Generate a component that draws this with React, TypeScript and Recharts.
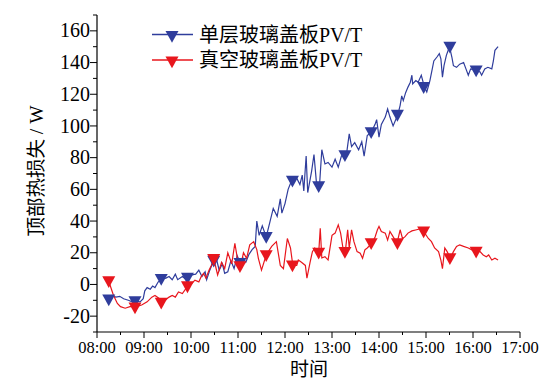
import { ComposedChart, Label, Legend, Line, XAxis, YAxis } from "recharts";

const FONT = "'Liberation Serif', 'Times New Roman', 'Noto Sans CJK SC', serif";
const BLUE = "#2F3D9C";
const RED = "#E8161D";

const seriesNames = ["单层玻璃盖板PV/T", "真空玻璃盖板PV/T"];
const xTitle = "时间";
const yTitle = "顶部热损失 / W";

// time in minutes after midnight
const xTicks = [480, 510, 540, 570, 600, 630, 660, 690, 720, 750, 780, 810, 840, 870, 900, 930, 960, 990, 1020];
const yTicks = [-30, -20, -10, 0, 10, 20, 30, 40, 50, 60, 70, 80, 90, 100, 110, 120, 130, 140, 150, 160, 170];

// single glazing PV/T
const singleTimes = [
  495, 499, 504, 509, 514, 520, 525, 530, 535, 539,
  541, 544, 548, 551, 554, 558, 563, 568, 572, 576,
  580, 583, 589, 594, 597, 601, 606, 610, 614, 618,
  620, 624, 628, 632, 636, 640, 643, 647, 651, 655,
  659, 663, 666, 670, 674, 678, 682, 684, 687, 691,
  696, 701, 705, 710, 714, 716, 720, 724, 728, 732,
  735, 739, 742, 744, 747, 749, 754, 757, 760, 764,
  767, 771, 775, 780, 784, 788, 792, 794, 799, 802,
  805, 809, 814, 818, 821, 825, 830, 835, 837, 840,
  843, 848, 851, 854, 858, 864, 867, 869, 871, 874,
  877, 880, 882, 883, 887, 890, 894, 898, 901, 905,
  908, 910, 914, 917, 919, 921, 923, 926, 930, 933,
  935, 939, 943, 948, 951, 954, 957, 964, 969, 971,
  975, 979, 984, 986, 988, 992,
];
const singleLoss = [
  -9, -7, -8, -7.5, -9, -10, -11, -10.5, -11, -9,
  -4, -2, -3, -1, -2, 1.5, 3.5, 4, 5, 3,
  6.5, 3, 5, 3, 4, 6, 6.5, 9, 5, 8,
  3, 9, 14, 17, 9, 13, 7, 8, 15, 10,
  18, 13.5, 17, 14, 19, 22, 24, 40, 31, 37,
  30, 40, 48, 43, 54, 45, 51, 60, 65, 66,
  67, 63, 69, 59, 81, 58, 71.5, 82, 65, 62,
  85, 76, 77, 74, 79, 74, 81, 82, 84, 95,
  87, 89.5, 85, 90, 81, 94, 96, 101, 104, 93,
  101, 105.6, 110.7, 105.6, 100, 107, 113, 119, 116, 121,
  124.5, 127.6, 132, 126.5, 128.6, 127.6, 132, 124.5, 121.4, 128.6,
  136, 141, 143.5, 145.6, 142.4, 130.8, 138, 144.5, 150, 143.5,
  138, 137, 139, 140, 136, 132, 136, 135, 134, 132,
  136, 137, 136, 141, 147.7, 150,
];

// vacuum glazing PV/T
const vacuumTimes = [
  495, 501, 506, 510, 516, 522, 530, 537, 544, 550,
  554, 559, 563, 567, 572, 576, 580, 584, 589, 593,
  596, 601, 605, 610, 613, 616, 619, 623, 626, 629,
  634, 639, 643, 647, 652, 656, 660, 663, 667, 671,
  675, 680, 684, 686, 690, 696, 703, 709, 714, 718,
  723, 727, 730, 735, 737, 741, 746, 748, 752, 755,
  758, 763, 765, 767, 771, 775, 780, 784, 788, 791,
  794, 797, 800, 802, 805, 808, 812, 816, 819, 822,
  825, 831, 835, 838, 840, 843, 848, 851, 854, 857,
  863, 867, 870, 873, 877, 882, 888, 892, 897, 903,
  907, 911, 916, 919, 921, 924, 927, 931, 935, 939,
  943, 948, 954, 963, 969, 973, 977, 980, 984, 988,
  992,
];
const vacuumLoss = [
  2, -6.8, -12, -14, -15, -14, -14, -13, -11, -8,
  -7, -8.7, -11.4, -10, -8, -7, -8, -4.7, -5.7, -3,
  -1, 0.6, 2.7, 1.6, 5, 7, 4, 9, 12, 16.5,
  6, 14, 10, 20, 13, 26, 14, 11, 20, 16.5,
  25, 27, 22, 16.5, 9, 18.6, 24, 27, 12, 10,
  29, 23, 12, 12, 15.4, 14, 12, 4, 14, 20.7,
  23, 19.7, 35.5, 16.7, 17.5, 15.4, 31, 32.4, 37.6, 32.4,
  23, 20.7, 34.5, 23, 34.5, 27, 20.7, 19.7, 16.5, 21.8,
  23, 26, 30, 34.5, 36.6, 33.4, 32.4, 28, 33.4, 31,
  26, 34.5, 29, 30, 32.4, 33.8, 34.5, 35, 33.4, 29,
  27, 23, 20.7, 15.4, 10, 23, 20.7, 16.5, 20.7, 24,
  25, 24, 23, 20.7, 20.7, 18.6, 17.5, 18.6, 15.4, 16.5,
  15.4,
];

// triangle markers
const markerTimes = [495, 528.5, 562, 595.5, 629, 662.5, 696, 729.5, 763, 796.5, 830, 863.5, 897, 930.5, 964];
const singleMarks = [-9.5, -10.6, 3.4, 4.2, 15, 13.5, 30, 65.5, 62, 81.5, 96, 107, 124.5, 150, 135];
const vacuumMarks = [2, -14.5, -11.5, -1.2, 16, 11.5, 18.5, 12, 20, 20.5, 26, 26, 33.4, 16.5, 20.7];

const toRows = (ts: number[], vs: number[]) => ts.map((t, i) => ({ t, v: vs[i] }));
const singleSeries = toRows(singleTimes, singleLoss);
const vacuumSeries = toRows(vacuumTimes, vacuumLoss);
const singleMarkRows = toRows(markerTimes, singleMarks);
const vacuumMarkRows = toRows(markerTimes, vacuumMarks);

function hhmm(m: number) {
  return `${String(Math.floor(m / 60)).padStart(2, "0")}:${String(m % 60).padStart(2, "0")}`;
}

function Tri({ cx, cy, fill }: { cx: number; cy: number; fill: string }) {
  return <polygon points={`${cx - 6.5},${cy - 5} ${cx + 6.5},${cy - 5} ${cx},${cy + 6.8}`} fill={fill} />;
}

const triDot = (fill: string) => (p: any) => (
  <Tri key={`m-${p.index}`} cx={p.cx} cy={p.cy} fill={fill} />
);

function YTick(props: any) {
  const { x, y, payload } = props;
  const major = payload.value % 20 === 0;
  return (
    <g>
      <line x1={x - (major ? 7 : 4)} x2={x} y1={y} y2={y} stroke="#000" strokeWidth={1} />
      {major && (
        <text x={x - 7} y={y} dy="0.33em" textAnchor="end" fontSize={20} fontFamily={FONT} fill="#000">
          {payload.value}
        </text>
      )}
    </g>
  );
}

function XTick(props: any) {
  const { x, y, payload } = props;
  const major = payload.value % 60 === 0;
  return (
    <g>
      <line x1={x} x2={x} y1={y} y2={y + (major ? 6 : 3)} stroke="#000" strokeWidth={1} />
      {major && (
        <text x={x} y={y + 20.5} textAnchor="middle" fontSize={16.5} fontFamily={FONT} fill="#000">
          {hhmm(payload.value)}
        </text>
      )}
    </g>
  );
}

function LegendBox() {
  const rows = [
    { name: seriesNames[0], color: BLUE },
    { name: seriesNames[1], color: RED },
  ];
  return (
    <svg width={240} height={54} style={{ display: "block", overflow: "visible" }}>
      {rows.map((r, i) => {
        const y = 14.5 + i * 25.5;
        return (
          <g key={r.name}>
            <line x1={2} x2={43} y1={y} y2={y} stroke={r.color} strokeWidth={1.3} />
            <Tri cx={22} cy={y + 1.5} fill={r.color} />
            <text x={49} y={y} dy="0.36em" fontSize={20} fontFamily={FONT} fill="#000">
              {r.name}
            </text>
          </g>
        );
      })}
    </svg>
  );
}

export default function App() {
  return (
    <div style={{ position: "absolute", left: 0, top: 0, width: 553, height: 380, background: "#fff" }}>
      <ComposedChart width={553} height={380} margin={{ top: 15, right: 33, bottom: 18, left: 37 }}>
        <XAxis
          type="number"
          dataKey="t"
          domain={[480, 1020]}
          ticks={xTicks}
          interval={0}
          height={30}
          tickSize={0}
          tickMargin={0}
          tick={<XTick />}
          axisLine={{ stroke: "#000", strokeWidth: 1.2 }}
          allowDuplicatedCategory={false}
        >
          <Label
            content={() => (
              <text x={309} y={369} dy="0.35em" textAnchor="middle" fontSize={19} fontFamily={FONT} fill="#000">
                {xTitle}
              </text>
            )}
          />
        </XAxis>
        <YAxis
          type="number"
          dataKey="v"
          domain={[-30, 170]}
          ticks={yTicks}
          interval={0}
          width={60}
          tickSize={0}
          tickMargin={0}
          tick={<YTick />}
          axisLine={{ stroke: "#000", strokeWidth: 1.2 }}
        >
          <Label
            content={() => (
              <text
                x={36}
                y={171}
                dy="0.35em"
                transform="rotate(-90 36 171)"
                textAnchor="middle"
                fontSize={19.5}
                fontFamily={FONT}
                fill="#000"
              >
                {yTitle}
              </text>
            )}
          />
        </YAxis>
        <Legend
          content={() => <LegendBox />}
          layout="horizontal"
          verticalAlign="middle"
          align="center"
          wrapperStyle={{ left: 150, top: 20, width: 240, height: 54 }}
        />
        <Line
          data={singleSeries}
          dataKey="v"
          type="linear"
          stroke={BLUE}
          strokeWidth={1.2}
          dot={false}
          activeDot={false}
          isAnimationActive={false}
          legendType="none"
        />
        <Line
          data={vacuumSeries}
          dataKey="v"
          type="linear"
          stroke={RED}
          strokeWidth={1.2}
          dot={false}
          activeDot={false}
          isAnimationActive={false}
          legendType="none"
        />
        <Line
          data={singleMarkRows}
          dataKey="v"
          stroke="none"
          dot={triDot(BLUE)}
          activeDot={false}
          isAnimationActive={false}
          legendType="none"
        />
        <Line
          data={vacuumMarkRows}
          dataKey="v"
          stroke="none"
          dot={triDot(RED)}
          activeDot={false}
          isAnimationActive={false}
          legendType="none"
        />
      </ComposedChart>
    </div>
  );
}
